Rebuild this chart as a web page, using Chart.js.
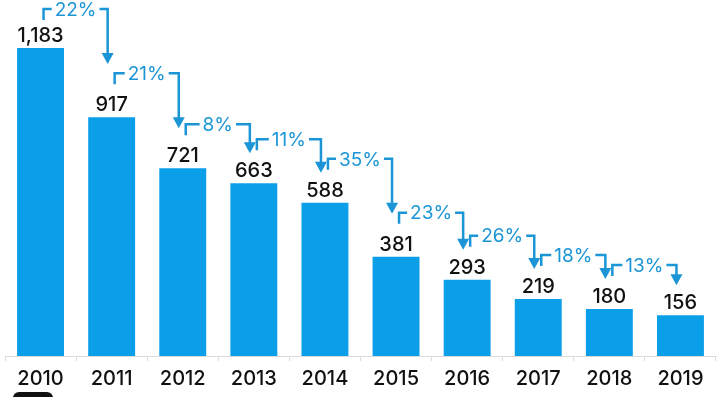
<!DOCTYPE html>
<html>
<head>
<meta charset="utf-8">
<script src="https://cdn.jsdelivr.net/npm/chart.js@4/dist/chart.umd.min.js"></script>
<style>
    html, body { margin: 0; padding: 0; background: #fff; }
    #wrap { width: 728px; height: 397px; position: relative; }
</style>
</head>
<body>
<div id="wrap"><canvas id="chart"></canvas></div>
<script>
// Данные графика
const years = ['2010', '2011', '2012', '2013', '2014', '2015', '2016', '2017', '2018', '2019'];
const values = [1183, 917, 721, 663, 588, 381, 293, 219, 180, 156];
const valueLabels = ['1,183', '917', '721', '663', '588', '381', '293', '219', '180', '156'];
// Снижение от года к году (как подписано на картинке)
const dropLabels = ['22%', '21%', '8%', '11%', '35%', '23%', '26%', '18%', '13%'];

const barColor = '#0a9fe8';
const arrowColor = '#1b95d6';
const fontFamily = 'Inter, "Noto Sans", sans-serif';

// Подписи значений над столбцами и стрелки с процентами
const labelsPlugin = {
    id: 'labels',
    afterDatasetsDraw(chart) {
        const ctx = chart.ctx;
        const meta = chart.getDatasetMeta(0);
        const y = chart.scales.y;

        ctx.save();
        ctx.fillStyle = '#111';
        ctx.font = '500 20px ' + fontFamily;
        ctx.textAlign = 'center';
        ctx.textBaseline = 'bottom';
        meta.data.forEach((bar, i) => {
            ctx.fillText(valueLabels[i], bar.x, bar.y - 2);
        });

        ctx.strokeStyle = arrowColor;
        ctx.fillStyle = arrowColor;
        ctx.lineWidth = 2.5;
        ctx.font = '400 19px ' + fontFamily;
        ctx.textBaseline = 'middle';
        for (let i = 0; i < dropLabels.length; i++) {
            const x1 = meta.data[i].x + 3;
            const x2 = meta.data[i + 1].x - 4;
            const top = Math.max(9, y.getPixelForValue(values[i]) - 44);
            const tip = Math.min(y.getPixelForValue(values[i + 1]) - 30, top + 55);
            const tx = (x1 + x2) / 2;
            const tw = ctx.measureText(dropLabels[i]).width;

            ctx.beginPath();
            ctx.moveTo(x1, top + 11);
            ctx.lineTo(x1, top);
            ctx.lineTo(tx - tw / 2 - 3, top);
            ctx.moveTo(tx + tw / 2 + 3, top);
            ctx.lineTo(x2, top);
            ctx.lineTo(x2, tip - 8);
            ctx.stroke();

            // наконечник стрелки
            ctx.beginPath();
            ctx.moveTo(x2 - 6, tip - 11);
            ctx.lineTo(x2 + 6, tip - 11);
            ctx.lineTo(x2, tip);
            ctx.closePath();
            ctx.fill();

            ctx.fillText(dropLabels[i], tx, top + 1);
        }

        // чёрный обрезанный значок внизу слева
        ctx.fillStyle = '#111';
        ctx.beginPath();
        ctx.roundRect(13, 392, 40, 14, 6);
        ctx.fill();
        ctx.restore();
    }
};

new Chart(document.getElementById('chart').getContext('2d'), {
    type: 'bar',
    data: {
        labels: years,
        datasets: [{
            data: values,
            backgroundColor: barColor,
            barPercentage: 0.66,
            categoryPercentage: 1
        }]
    },
    options: {
        responsive: true,
        maintainAspectRatio: false,
        animation: false,
        layout: { padding: { left: 5, right: 12, top: 0, bottom: 0 } },
        plugins: {
            legend: { display: false },
            tooltip: { enabled: false }
        },
        scales: {
            y: {
                display: false,
                min: 0,
                max: 1367
            },
            x: {
                grid: {
                    offset: true,
                    drawOnChartArea: false,
                    drawTicks: true,
                    tickLength: 5,
                    color: '#dcdcdc'
                },
                border: { color: '#dcdcdc' },
                ticks: {
                    color: '#111',
                    padding: 6,
                    font: { family: fontFamily, size: 20, weight: '500' }
                }
            }
        }
    },
    plugins: [labelsPlugin]
});
</script>
</body>
</html>
